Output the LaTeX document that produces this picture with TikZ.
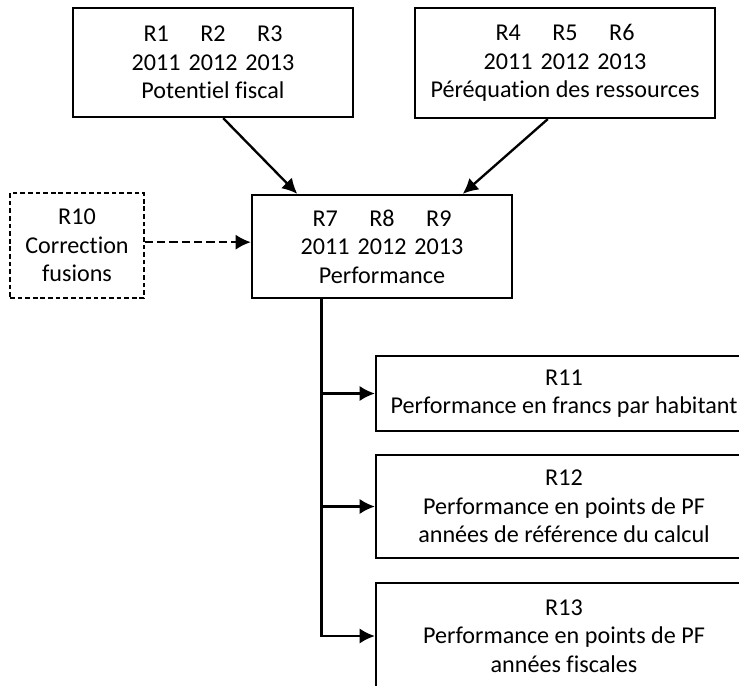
\documentclass[tikz,border=0pt]{standalone}
\usepackage{fontspec}
\setmainfont{Carlito}[Ligatures=NoCommon]
\usetikzlibrary{arrows.meta,calc}

\def\ds{0.03}
\def\punkt#1#2{({(#1)*\ds},{-(#2)*\ds})}
\def\trio#1#2#3{\makebox[48.5pt]{#1}\makebox[48.5pt]{#2}\makebox[48.5pt]{#3}}
\tikzset{
	kasten/.style={draw,line width=1.9pt,inner sep=0pt,align=center,
		font=\fontsize{20.6}{24.4}\selectfont},
	pfeil/.style={-{Latex[length=13pt,width=13pt]},line width=2pt}
}

\begin{document}
\begin{tikzpicture}
\useasboundingbox \punkt{0}{0} rectangle \punkt{739}{686};
\clip \punkt{0}{0} rectangle \punkt{739}{686};
\node[kasten,minimum width=8.4cm,minimum height=3.27cm] (potentiel) at \punkt{213}{62.5}
	{\trio{R1}{R2}{R3}\\\trio{2011}{2012}{2013}\\Potentiel fiscal};
\node[kasten,minimum width=9cm,minimum height=3.3cm] (perequation) at \punkt{565}{63}
	{\trio{R4}{R5}{R6}\\\trio{2011}{2012}{2013}\\Péréquation des ressources};
\node[kasten,minimum width=7.8cm,minimum height=3.09cm] (performance) at \punkt{382}{246.5}
	{\trio{R7}{R8}{R9}\\\trio{2011}{2012}{2013}\\Performance};
\node[kasten,dash pattern=on 4pt off 2.5pt,line width=1.4pt,
	minimum width=4.02cm,minimum height=3.15cm] (fusions) at \punkt{77}{245.5}
	{R10\\Correction\\fusions};
\node[kasten,minimum width=11.28cm,minimum height=2.25cm] (r11) at \punkt{564}{393.5}
	{R11\\Performance en francs par habitant};
\node[kasten,minimum width=11.28cm,minimum height=3.09cm] (r12) at \punkt{564}{506.5}
	{R12\\Performance en points de PF\\années de référence du calcul};
\node[kasten,minimum width=11.28cm,minimum height=3.18cm] (r13) at \punkt{564}{636}
	{R13\\Performance en points de PF\\années fiscales};
\draw[pfeil] ($(potentiel.south west)!0.536!(potentiel.south east)$)
	-- ($(performance.north west)!0.177!(performance.north east)$);
\draw[pfeil] ($(perequation.south west)!0.443!(perequation.south east)$)
	-- ($(performance.north west)!0.808!(performance.north east)$);
\draw[pfeil,dash pattern=on 7pt off 3.5pt] ($(fusions.east)+(0,0.1)$) -- ($(performance.west)+(0,0.13)$);
\coordinate (stamm) at ($(performance.south west)!0.269!(performance.south east)$);
\draw[pfeil] (stamm) |- (r13.west);
\draw[pfeil] (stamm |- r11.west) -- (r11.west);
\draw[pfeil] (stamm |- r12.west) -- (r12.west);
\end{tikzpicture}
\end{document}
